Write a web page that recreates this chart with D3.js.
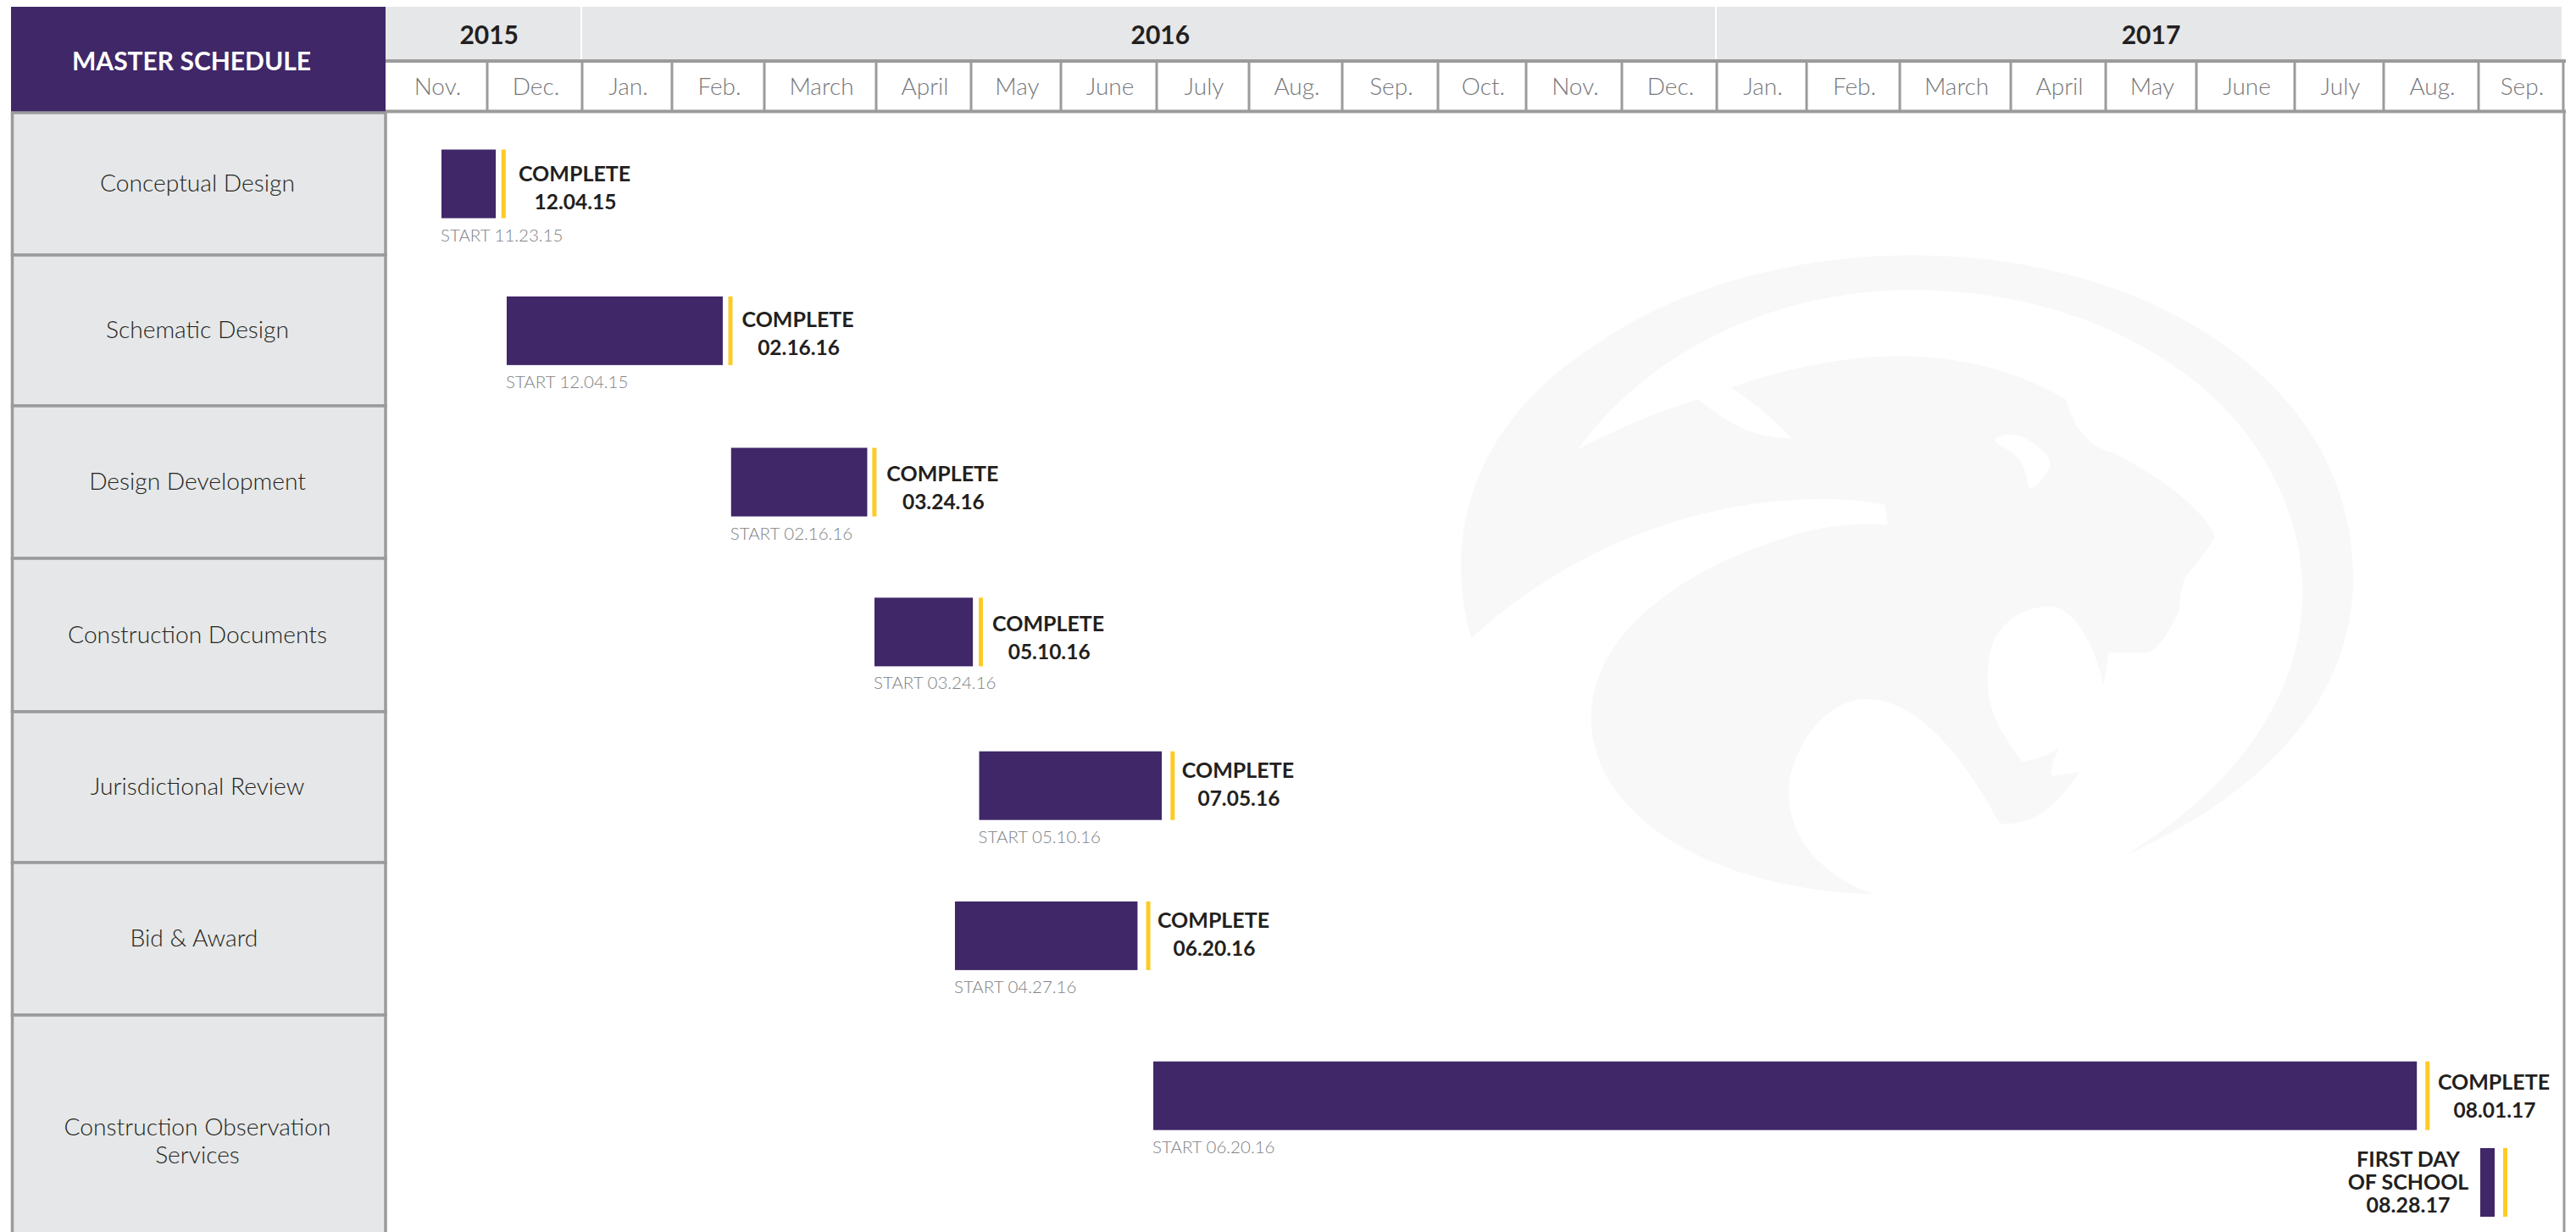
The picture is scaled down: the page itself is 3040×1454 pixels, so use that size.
<!DOCTYPE html>
<html>
<head>
<meta charset="utf-8">
<script src="https://cdnjs.cloudflare.com/ajax/libs/d3/7.8.5/d3.min.js"></script>
<style>
html, body { margin: 0; padding: 0; background: #fff; overflow: hidden; }
text { font-family: Lato, "Open Sans", sans-serif; }
</style>
</head>
<body>
<div id="chart"></div>
<script>
// Chart values. Bar ends are in month units: 3.55 means 55% across the fourth column.
var years = ["2015", "2016", "2017"];
var yearStart = [0, 2, 14];
var yearEnd = [2, 14, 23];
var yearLabelAt = [1.02, 8.04, 18.5];

var months = ["Nov.", "Dec.", "Jan.", "Feb.", "March", "April", "May", "June", "July", "Aug.", "Sep.", "Oct.", "Nov.", "Dec.",
	"Jan.", "Feb.", "March", "April", "May", "June", "July", "Aug.", "Sep."];

var phases = ["Conceptual Design", "Schematic Design", "Design Development", "Construction Documents",
	"Jurisdictional Review", "Bid & Award", "Construction Observation Services"];

var barLabels = ["12.04.15", "02.16.16", "03.24.16", "05.10.16", "07.05.16", "06.20.16", "08.01.17"];
var barStartLabels = ["11.23.15", "12.04.15", "02.16.16", "03.24.16", "05.10.16", "04.27.16", "06.20.16"];
var barStart = [0.55, 1.205, 3.64, 4.985, 6.09, 5.83, 7.965];
var barEnd = [1.09, 3.55, 4.92, 6.02, 8.055, 7.80, 21.35];
var barMark = [1.15, 3.61, 4.965, 6.085, 8.15, 7.89, 21.44];
var barRow = [0.5, 1.502, 2.5, 3.48, 4.49, 5.48, 6.35];
var barLabelAt = [1.92, 4.30, 5.70, 6.86, 8.88, 8.615, 22.18];
var barLabelRow = [0.58, 1.573, 2.586, 3.566, 4.531, 5.519, 6.384];

var firstDayLines = ["FIRST DAY", "OF SCHOOL", "08.28.17"];
var firstDayStart = 22.02;
var firstDayEnd = 22.19;
var firstDayMark = 22.29;
var firstDayRow = 6.726;

// Layout
var width = 3040, height = 1454;
var purple = "#3f2768", yellow = "#fdcb25", band = "#e6e7e8", rule = "#9b9b9b", ink = "#231f20";
var monthEdges = [455, 575, 687, 793, 902, 1034, 1146, 1252, 1365, 1474, 1584, 1697, 1801, 1914, 2026, 2132, 2242, 2373, 2485, 2592, 2708, 2813, 2925, 3025];
var rowEdges = [133, 301, 479, 659, 840, 1018, 1198, 1470];
var barHeight = 81;

var x = d3.scaleLinear().domain(d3.range(monthEdges.length)).range(monthEdges);
var y = d3.scaleLinear().domain(d3.range(rowEdges.length)).range(rowEdges);

var svg = d3.select("#chart").append("svg")
	.attr("width", width)
	.attr("height", height)
	.style("display", "block");

// Panther watermark, traced
var panther = "M110,900 C60,650 130,420 300,270 C420,150 600,75 790,75 C1010,75 1190,170 1310,310 C1420,440 1470,600 1470,770 " +
	"C1470,1020 1340,1230 1120,1365 C1300,1210 1392,1010 1392,800 C1392,620 1320,430 1190,310 C1080,205 940,150 790,150 " +
	"C570,150 380,290 275,492 C340,445 410,405 460,385 C510,440 540,465 605,470 C570,420 540,385 510,360 C600,315 690,292 770,292 " +
	"C870,292 960,330 1027,385 C1040,450 1065,490 1100,500 C1170,550 1240,620 1257,682 C1240,720 1225,745 1210,770 C1204,800 1202,820 1202,840 " +
	"C1185,885 1175,915 1155,930 L1093,930 L1085,1000 C1065,880 1030,830 1000,830 C950,835 912,880 908,950 C900,1040 920,1090 960,1165 " +
	"C985,1158 1005,1147 1018,1135 C1008,1155 1005,1175 1005,1195 L1047,1188 C1015,1260 975,1305 925,1298 C860,1130 790,1030 720,1030 " +
	"C650,1030 600,1150 600,1230 C600,1330 650,1410 730,1450 C480,1440 295,1280 295,1070 C295,900 420,760 590,685 C640,660 700,650 752,655 " +
	"L748,612 C700,600 670,600 640,600 C430,605 240,730 110,900 Z " +
	"M918,470 C930,458 950,458 965,470 C990,490 1005,510 1003,530 C995,550 985,570 975,576 C968,576 968,570 966,550 C960,515 950,505 935,492 C925,483 915,478 918,470 Z";

svg.append("path")
	.attr("d", panther)
	.attr("fill", "#f8f8f8")
	.attr("fill-rule", "evenodd")
	.attr("transform", "translate(1652,260) scale(0.7653,0.5485)");

// Year band
svg.selectAll("rect.year")
	.data(years)
	.enter()
	.append("rect")
	.attr("class", "year")
	.attr("x", function(d, i) { return x(yearStart[i]); })
	.attr("y", 8)
	.attr("width", function(d, i) { return x(yearEnd[i]) - x(yearStart[i]) - 2; })
	.attr("height", 63)
	.attr("fill", band);

svg.selectAll("text.year")
	.data(years)
	.enter()
	.append("text")
	.attr("class", "year")
	.attr("x", function(d, i) { return x(yearLabelAt[i]); })
	.attr("y", 52)
	.attr("text-anchor", "middle")
	.attr("font-size", 30)
	.attr("font-weight", 700)
	.attr("fill", ink)
	.text(function(d) { return d; });

// Month row
svg.append("line").attr("x1", x(0)).attr("x2", x(23) + 3).attr("y1", 72).attr("y2", 72).attr("stroke", rule).attr("stroke-width", 4);
svg.append("line").attr("x1", x(0)).attr("x2", x(23) + 3).attr("y1", 131.5).attr("y2", 131.5).attr("stroke", rule).attr("stroke-width", 4);

svg.selectAll("line.month")
	.data(d3.range(1, months.length + 1))
	.enter()
	.append("line")
	.attr("class", "month")
	.attr("x1", function(d) { return x(d); })
	.attr("x2", function(d) { return x(d); })
	.attr("y1", 72)
	.attr("y2", 131)
	.attr("stroke", rule)
	.attr("stroke-width", 3);

svg.selectAll("text.month")
	.data(months)
	.enter()
	.append("text")
	.attr("class", "month")
	.attr("x", function(d, i) { return x(i + 0.5) + 1.5; })
	.attr("y", 112)
	.attr("text-anchor", "middle")
	.attr("font-size", 28)
	.attr("font-weight", 300)
	.attr("fill", "#77787b")
	.text(function(d) { return d; });

// Right edge
svg.append("line").attr("x1", x(23) + 1).attr("x2", x(23) + 1).attr("y1", 131).attr("y2", height).attr("stroke", rule).attr("stroke-width", 3);

// Phase column
svg.append("rect").attr("x", 13).attr("y", 8).attr("width", x(0) - 13).attr("height", 124).attr("fill", purple);
svg.append("text")
	.attr("x", 226)
	.attr("y", 83)
	.attr("text-anchor", "middle")
	.attr("font-size", 30)
	.attr("font-weight", 700)
	.attr("fill", "#fff")
	.text("MASTER SCHEDULE");

svg.selectAll("rect.phase")
	.data(phases)
	.enter()
	.append("rect")
	.attr("class", "phase")
	.attr("x", 14.5)
	.attr("y", function(d, i) { return y(i); })
	.attr("width", x(0) - 14.5)
	.attr("height", function(d, i) { return y(i + 1) - y(i); })
	.attr("fill", band)
	.attr("stroke", rule)
	.attr("stroke-width", 3.5);

svg.selectAll("text.phase")
	.data(phases)
	.enter()
	.append("text")
	.attr("class", "phase")
	.attr("x", function(d) { return d == "Bid & Award" ? 229 : 233; })
	.attr("y", function(d, i) { return y(i + 0.5) + 9; })
	.attr("text-anchor", "middle")
	.attr("font-size", 28.2)
	.attr("font-weight", 300)
	.attr("fill", ink)
	.each(function(d, i) {
		if (i == phases.length - 1) {
			d3.select(this).attr("y", y(i) + 142);
			d3.select(this).append("tspan").attr("x", 233).text("Construction Observation");
			d3.select(this).append("tspan").attr("x", 233).attr("dy", 33).text("Services");
		} else {
			d3.select(this).text(d);
		}
	});

// Bars
svg.selectAll("rect.bar")
	.data(phases)
	.enter()
	.append("rect")
	.attr("class", "bar")
	.attr("x", function(d, i) { return x(barStart[i]); })
	.attr("y", function(d, i) { return y(barRow[i]) - barHeight / 2; })
	.attr("width", function(d, i) { return x(barEnd[i]) - x(barStart[i]); })
	.attr("height", barHeight)
	.attr("fill", purple);

svg.selectAll("rect.mark")
	.data(phases)
	.enter()
	.append("rect")
	.attr("class", "mark")
	.attr("x", function(d, i) { return x(barMark[i]); })
	.attr("y", function(d, i) { return y(barRow[i]) - barHeight / 2; })
	.attr("width", 5)
	.attr("height", barHeight)
	.attr("fill", yellow);

svg.selectAll("text.start")
	.data(barStartLabels)
	.enter()
	.append("text")
	.attr("class", "start")
	.attr("x", function(d, i) { return x(barStart[i]) - 1; })
	.attr("y", function(d, i) { return y(barRow[i]) + barHeight / 2 + 27; })
	.attr("font-size", 20.5)
	.attr("font-weight", 300)
	.attr("fill", "#808285")
	.text(function(d) { return "START " + d; });

svg.selectAll("text.complete")
	.data(barLabels)
	.enter()
	.append("text")
	.attr("class", "complete")
	.attr("x", function(d, i) { return x(barLabelAt[i]); })
	.attr("y", function(d, i) { return y(barLabelRow[i]) - 16.5; })
	.attr("text-anchor", "middle")
	.attr("font-size", 25)
	.attr("font-weight", 700)
	.attr("fill", ink)
	.text("COMPLETE");

svg.selectAll("text.date")
	.data(barLabels)
	.enter()
	.append("text")
	.attr("class", "date")
	.attr("x", function(d, i) { return x(barLabelAt[i]) + 1; })
	.attr("y", function(d, i) { return y(barLabelRow[i]) + 16.5; })
	.attr("text-anchor", "middle")
	.attr("font-size", 24.5)
	.attr("font-weight", 700)
	.attr("fill", ink)
	.text(function(d) { return d; });

// First day of school
svg.append("rect")
	.attr("x", x(firstDayStart))
	.attr("y", y(firstDayRow) - barHeight / 2)
	.attr("width", x(firstDayEnd) - x(firstDayStart))
	.attr("height", barHeight)
	.attr("fill", purple);

svg.append("rect")
	.attr("x", x(firstDayMark))
	.attr("y", y(firstDayRow) - barHeight / 2)
	.attr("width", 5)
	.attr("height", barHeight)
	.attr("fill", yellow);

svg.selectAll("text.firstday")
	.data(firstDayLines)
	.enter()
	.append("text")
	.attr("class", "firstday")
	.attr("x", x(firstDayStart) - 85)
	.attr("y", function(d, i) { return y(firstDayRow) - 18 + i * 27; })
	.attr("text-anchor", "middle")
	.attr("font-size", 25)
	.attr("font-weight", 700)
	.attr("fill", ink)
	.text(function(d) { return d; });
</script>
</body>
</html>
